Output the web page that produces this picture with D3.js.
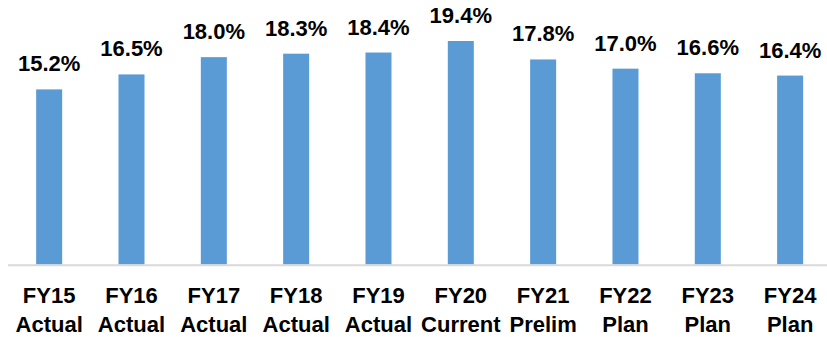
<!DOCTYPE html>
<html><head><meta charset="utf-8">
<script src="https://cdn.jsdelivr.net/npm/d3@7"></script>
<style>
html,body{margin:0;padding:0;background:#fff;}
text{font-family:"Liberation Sans Narrow","Arial Narrow","Liberation Sans",sans-serif;font-weight:bold;fill:#000;}
</style></head>
<body><svg id="c" width="827" height="337"></svg>
<script>
const years = ["FY15","FY16","FY17","FY18","FY19","FY20","FY21","FY22","FY23","FY24"];
const stages = ["Actual","Actual","Actual","Actual","Actual","Current","Prelim","Plan","Plan","Plan"];
const values = [15.2,16.5,18.0,18.3,18.4,19.4,17.8,17.0,16.6,16.4];

const svg = d3.select("#c");
const x = d3.scaleBand().domain(years).range([8, 831.3]).paddingInner(0.684).paddingOuter(0.342);
const y = d3.scaleLinear().domain([0, 20]).range([264.5, 34.1]);

svg.selectAll("rect.bar").data(values).join("rect")
  .attr("class","bar")
  .attr("x",(d,i)=>x(years[i]))
  .attr("width",x.bandwidth())
  .attr("y",d=>y(d))
  .attr("height",d=>y(0)-y(d))
  .attr("fill","#5b9bd5");

svg.append("line").attr("x1",8).attr("x2",831.3).attr("y1",265.2).attr("y2",265.2)
  .attr("stroke","#d9d9d9").attr("stroke-width",2);

svg.selectAll("text.val").data(values).join("text")
  .attr("class","val")
  .attr("x",(d,i)=>x(years[i])+x.bandwidth()/2)
  .attr("y",d=>y(d)-18)
  .attr("text-anchor","middle")
  .style("font-size","22px")
  .text(d=>d.toFixed(1)+"%");

const g = svg.selectAll("g.cat").data(years).join("g").attr("class","cat")
  .attr("transform",d=>`translate(${x(d)+x.bandwidth()/2},0)`);
g.append("text").attr("y",303.3).attr("text-anchor","middle").style("font-size","22px").text(d=>d);
g.append("text").attr("y",331.5).attr("text-anchor","middle").style("font-size","22px").text((d,i)=>stages[i]);
</script></body></html>
